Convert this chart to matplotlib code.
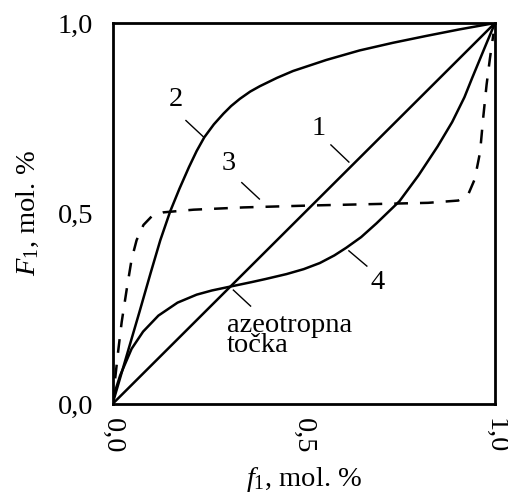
import matplotlib
matplotlib.use("Agg")
import matplotlib.pyplot as plt

plt.rcParams['font.family'] = ['Liberation Serif', 'DejaVu Serif']
plt.rcParams['mathtext.fontset'] = 'custom'
plt.rcParams['mathtext.rm'] = 'Liberation Serif'
plt.rcParams['mathtext.it'] = 'Liberation Serif:italic'

# Curve 1: ideal (diagonal)
c1_x = [0.0, 1.0]
c1_y = [0.0, 1.0]

# Curve 2
c2_x = [0.0, 0.035, 0.07, 0.1, 0.125, 0.151, 0.175, 0.2, 0.22, 0.24, 0.265, 0.29, 0.31,
        0.333, 0.36, 0.385, 0.43, 0.472, 0.559, 0.646, 0.733, 0.82, 0.906, 1.0]
c2_y = [0.0, 0.12, 0.24, 0.345, 0.43, 0.506, 0.565, 0.622, 0.664, 0.70, 0.734, 0.762, 0.782,
        0.801, 0.82, 0.834, 0.856, 0.874, 0.903, 0.928, 0.948, 0.966, 0.983, 1.0]

# Curve 3 (dashed)
c3_x = [0.0, 0.006, 0.015, 0.024, 0.037, 0.05, 0.063, 0.081, 0.102, 0.133, 0.212, 0.343,
        0.518, 0.694, 0.825, 0.904, 0.93, 0.947, 0.961, 0.969, 0.978, 0.987, 0.996]
c3_y = [0.0, 0.058, 0.14, 0.215, 0.3, 0.38, 0.43, 0.47, 0.492, 0.503, 0.51, 0.516,
        0.521, 0.525, 0.528, 0.534, 0.55, 0.59, 0.661, 0.75, 0.838, 0.909, 0.972]

# Curve 4 (azeotropic)
c4_x = [0.0, 0.005, 0.02, 0.05, 0.08, 0.12, 0.17, 0.22, 0.26, 0.307, 0.364, 0.4, 0.455,
        0.5, 0.542, 0.58, 0.611, 0.65, 0.69, 0.75, 0.8, 0.85, 0.888, 0.92, 0.94, 0.975, 1.0]
c4_y = [0.0, 0.028, 0.075, 0.145, 0.19, 0.232, 0.266, 0.287, 0.298, 0.308, 0.320, 0.328,
        0.341, 0.354, 0.37, 0.39, 0.41, 0.438, 0.474, 0.532, 0.6, 0.676, 0.74, 0.805, 0.855,
        0.94, 1.0]

ticks = [0.0, 0.5, 1.0]
tick_labels = ['0,0', '0,5', '1,0']

fig = plt.figure(figsize=(5.08, 4.97), dpi=100)
ax = fig.add_axes([112.5 / 508, 93 / 497, 382.5 / 508, 381 / 497])

lw = 1.8
ax.plot(c1_x, c1_y, color='black', lw=lw, solid_joinstyle='round')
ax.plot(c2_x, c2_y, color='black', lw=lw, solid_joinstyle='round')
ax.plot(c3_x, c3_y, color='black', lw=lw, dashes=(5.5, 4.8))
ax.plot(c4_x, c4_y, color='black', lw=lw, solid_joinstyle='round')

ax.set_xlim(0, 1)
ax.set_ylim(0, 1)
ax.set_xticks(ticks)
ax.set_xticklabels(tick_labels, rotation=-90, fontsize=20.5)
ax.set_yticks(ticks)
ax.set_yticklabels(tick_labels, fontsize=20.5)
ax.tick_params(axis='x', length=0, pad=10)
ax.tick_params(axis='y', length=0, pad=14)
for s in ax.spines.values():
    s.set_linewidth(2.0)

ax.set_xlabel(r'$\mathit{f}_{1}$, mol. %', fontsize=20.5, labelpad=8)
ax.set_ylabel(r'$\mathit{F}_{1}$, mol. %', fontsize=20.5, labelpad=12)

fs = 20.5
leader_kw = dict(color='black', lw=1.0)
# labels and leaders
ax.text(0.538, 0.724, '1', fontsize=fs, ha='center', va='center')
ax.plot([0.571, 0.618], [0.68, 0.635], **leader_kw)
ax.text(0.165, 0.798, '2', fontsize=fs, ha='center', va='center')
ax.plot([0.192, 0.239], [0.744, 0.70], **leader_kw)
ax.text(0.303, 0.63, '3', fontsize=fs, ha='center', va='center')
ax.plot([0.338, 0.384], [0.581, 0.538], **leader_kw)
ax.text(0.694, 0.32, '4', fontsize=fs, ha='center', va='center')
ax.plot([0.618, 0.665], [0.402, 0.362], **leader_kw)
ax.plot([0.316, 0.361], [0.299, 0.257], **leader_kw)
ax.text(0.299, 0.19, 'azeotropna', fontsize=fs, ha='left', va='baseline')
ax.text(0.299, 0.136, 'točka', fontsize=fs, ha='left', va='baseline')

fig.savefig('out.png', dpi=100)
